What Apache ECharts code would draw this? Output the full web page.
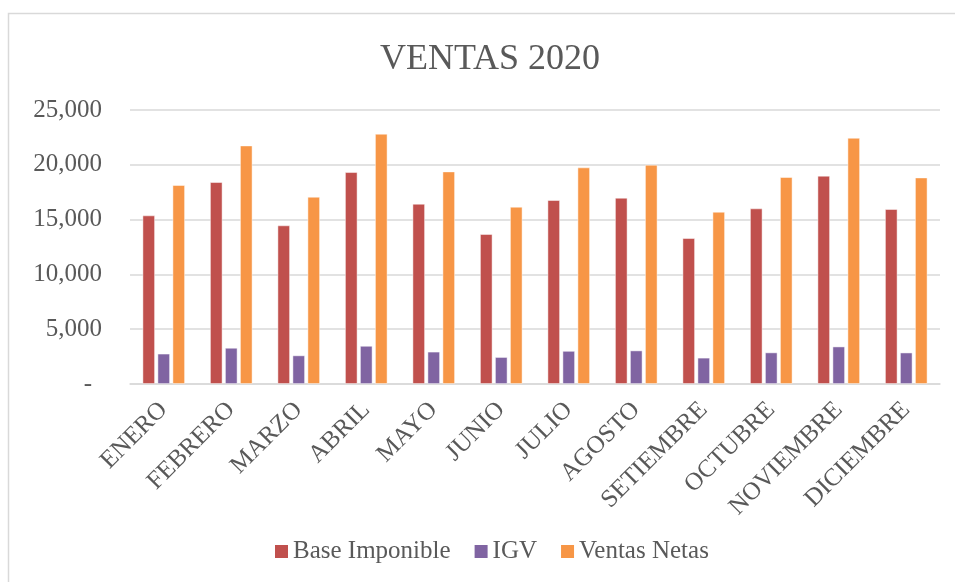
<!DOCTYPE html>
<html>
<head>
<meta charset="utf-8">
<script src="https://cdn.jsdelivr.net/npm/echarts@6/dist/echarts.min.js"></script>
<style>
html,body{margin:0;padding:0;background:#fff;}
#chart{width:955px;height:582px;}
</style>
</head>
<body>
<div id="chart"></div>
<script>
const categories = ['ENERO','FEBRERO','MARZO','ABRIL','MAYO','JUNIO','JULIO','AGOSTO','SETIEMBRE','OCTUBRE','NOVIEMBRE','DICIEMBRE'];
const baseImponible = [15380, 18420, 14470, 19330, 16440, 13680, 16780, 16990, 13310, 16020, 19000, 15960];
const igv = [2770, 3300, 2610, 3480, 2950, 2460, 3020, 3060, 2400, 2880, 3420, 2870];
const ventasNetas = [18150, 21760, 17080, 22830, 19390, 16170, 19760, 20000, 15710, 18880, 22460, 18840];
const yTicks = { min: 0, max: 25000, interval: 5000 };

const serif = 'Liberation Serif';
const txt = '#595959';

const chart = echarts.init(document.getElementById('chart'), null, { renderer: 'canvas' });
chart.setOption({
  backgroundColor: '#fff',
  animation: false,
  textStyle: { fontFamily: serif },
  graphic: [{
    type: 'rect', silent: true, z: -1,
    shape: { x: 8.5, y: 13.5, width: 1000, height: 1000 },
    style: { fill: 'none', stroke: '#d9d9d9', lineWidth: 1.5 }
  }],
  title: {
    text: 'VENTAS 2020',
    left: 375, top: 37,
    textStyle: { fontFamily: serif, fontSize: 36, fontWeight: 'normal', color: txt }
  },
  legend: {
    left: 275, top: 539, padding: 0,
    itemWidth: 13, itemHeight: 13, itemGap: 24,
    icon: 'rect',
    itemStyle: { borderWidth: 0 },
    textStyle: { fontFamily: serif, fontSize: 25, color: txt },
    data: ['Base Imponible', 'IGV', 'Ventas Netas']
  },
  grid: { left: 130, right: 15, top: 110, bottom: 198, containLabel: false },
  xAxis: {
    type: 'category',
    data: categories,
    axisLine: { lineStyle: { color: '#d9d9d9', width: 1.5 } },
    axisTick: { show: false },
    axisLabel: { rotate: 45, margin: 22, fontFamily: serif, fontSize: 25, color: txt, interval: 0 }
  },
  yAxis: {
    type: 'value',
    min: yTicks.min, max: yTicks.max, interval: yTicks.interval,
    axisLine: { show: false },
    axisTick: { show: false },
    splitLine: { lineStyle: { color: '#d9d9d9', width: 1.5 } },
    axisLabel: {
      margin: 28,
      fontFamily: serif, fontSize: 25, color: txt,
      formatter: v => v === 0 ? '{z|-}' : v.toLocaleString('en-US'),
      rich: { z: { fontFamily: serif, fontSize: 25, color: txt, padding: [0, 10, 0, 0] } }
    }
  },
  series: [
    { name: 'Base Imponible', type: 'bar', data: baseImponible, barWidth: 12.5, barGap: '20%',
      itemStyle: { color: '#C0504D', borderColor: 'rgba(255,255,255,0.6)', borderWidth: 0.8 } },
    { name: 'IGV', type: 'bar', data: igv, barWidth: 12.5, barGap: '20%',
      itemStyle: { color: '#8064A2', borderColor: 'rgba(255,255,255,0.6)', borderWidth: 0.8 } },
    { name: 'Ventas Netas', type: 'bar', data: ventasNetas, barWidth: 12.5, barGap: '20%',
      itemStyle: { color: '#F79646', borderColor: 'rgba(255,255,255,0.6)', borderWidth: 0.8 } }
  ]
});
</script>
</body>
</html>
